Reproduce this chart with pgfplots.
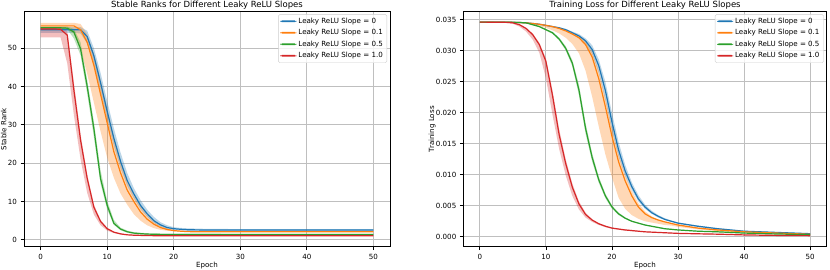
\documentclass[border=0pt]{standalone}
\usepackage{fontspec}
\setmainfont{DejaVu Sans}
\usepackage{pgfplots}
\usepackage{pgfplotstable}
\pgfplotsset{compat=1.18}
\usepgfplotslibrary{fillbetween}

\definecolor{tblue}{HTML}{1F77B4}
\definecolor{torange}{HTML}{FF7F0E}
\definecolor{tgreen}{HTML}{2CA02C}
\definecolor{tred}{HTML}{D62728}

\pgfplotstableread{
e b bl bu o ol ou g gl gu r rl ru
0 54.8 54.0 55.5 55.8 55.0 56.6 55.3 55.0 55.6 55.0 52.8 55.4
1 54.8 54.0 55.5 55.8 55.0 56.6 55.3 55.0 55.6 55.0 52.8 55.4
2 54.8 54.0 55.5 55.8 55.0 56.6 55.3 55.0 55.6 55.0 52.8 55.4
3 54.8 54.0 55.5 55.8 55.0 56.6 55.3 55.0 55.6 54.9 52.8 55.4
4 54.8 54.0 55.5 55.8 55.0 56.6 55.2 54.9 55.6 53.4 46.0 54.5
5 54.8 54.0 55.5 55.8 53.8 56.6 54.2 52.5 55.0 39.0 32.5 41.0
6 54.8 53.8 55.5 54.8 49.7 56.3 49.8 48.1 51.5 26.0 21.0 27.5
7 53.0 51.2 54.5 51.5 43.3 53.6 40.0 38.1 41.7 16.0 12.2 17.0
8 48.0 45.6 50.0 45.5 35.8 48.5 29.0 26.8 30.8 8.5 6.6 9.2
9 41.0 38.4 43.6 38.0 28.3 41.8 16.0 14.7 18.2 4.8 3.8 5.2
10 33.5 31.1 36.2 30.5 21.4 34.3 9.0 7.9 10.2 2.9 2.4 3.1
11 26.5 24.4 29.1 23.0 16.2 26.8 4.3 3.9 5.2 2.0 1.75 2.1
12 20.5 18.7 22.8 17.5 12.1 20.3 2.8 2.5 3.2 1.55 1.4 1.65
13 15.5 14.1 17.5 13.0 9.2 15.3 2.1 1.85 2.4 1.3 1.25 1.4
14 12.0 10.8 13.5 10.0 6.7 11.5 1.75 1.5 2.0 1.2 1.15 1.25
15 9.0 8.0 10.4 7.3 5.0 8.7 1.6 1.38 1.85 1.15 1.1 1.2
16 6.8 6.0 7.9 5.4 3.8 6.4 1.5 1.28 1.72 1.1 1.05 1.15
17 5.0 4.4 6.0 4.1 3.05 4.75 1.45 1.24 1.66 1.08 1.02 1.13
18 3.9 3.4 4.6 3.2 2.6 3.65 1.42 1.21 1.63 1.07 1.0 1.12
19 3.2 2.8 3.8 2.7 2.35 2.95 1.41 1.2 1.62 1.06 1.0 1.11
20 2.9 2.55 3.3 2.4 2.22 2.55 1.4 1.2 1.6 1.05 1.0 1.1
21 2.75 2.45 3.1 2.25 2.13 2.33 1.4 1.2 1.6 1.05 1.0 1.1
22 2.65 2.35 3.0 2.15 2.1 2.2 1.4 1.2 1.6 1.05 1.0 1.1
23 2.6 2.3 2.95 2.1 2.07 2.15 1.4 1.2 1.6 1.05 1.0 1.1
24 2.58 2.3 2.9 2.1 2.07 2.15 1.4 1.2 1.6 1.05 1.0 1.1
25 2.57 2.3 2.85 2.1 2.07 2.15 1.4 1.2 1.6 1.05 1.0 1.1
30 2.55 2.3 2.8 2.1 2.05 2.15 1.4 1.25 1.55 1.05 1.0 1.1
40 2.55 2.3 2.8 2.1 2.05 2.15 1.4 1.25 1.55 1.05 1.0 1.1
50 2.55 2.3 2.8 2.1 2.05 2.15 1.4 1.25 1.55 1.05 1.0 1.1
}\rankdata

\pgfplotstableread{
e b bl bu o ol ou g gl gu r rl ru
0 .03462 .03459 .03465 .03462 .03459 .03465 .03462 .03459 .03465 .03462 .03459 .03465
2 .03461 .03458 .03464 .03461 .03458 .03464 .03461 .03458 .03464 .03461 .03458 .03464
4 .0346 .03457 .03463 .0346 .03456 .03463 .0346 .03457 .03463 .03458 .03452 .0346
5 .03458 .03455 .03461 .03458 .03452 .03461 .03459 .03456 .03462 .0345 .03435 .03455
6 .03455 .03452 .03458 .03455 .03447 .03458 .03457 .03454 .0346 .0342 .0339 .03428
7 .0345 .03447 .03453 .0345 .0344 .03453 .0345 .03447 .03453 .0336 .0331 .0337
8 .0344 .03437 .03443 .0344 .0342 .03443 .0342 .03412 .03428 .0326 .0318 .0328
9 .03428 .03422 .03434 .03427 .0340 .0343 .0339 .0338 .034 .0310 .0297 .0313
10 .0341 .03403 .03417 .0341 .0337 .03413 .0334 .03328 .03352 .0283 .0256 .0288
11 .0339 .03382 .03398 .0339 .0333 .03393 .0329 .03272 .03308 .0228 .0197 .0236
12 .0337 .03358 .03382 .0336 .0328 .03363 .0319 .03167 .03213 .0165 .0142 .0174
13 .0334 .03322 .03352 .0332 .0321 .03323 .0304 .03006 .03074 .0118 .0099 .0125
14 .0329 .03265 .0331 .0327 .0311 .0329 .028 .0275 .0285 .008 .0066 .0086
15 .0324 .0320 .0327 .0321 .0296 .0324 .0237 .02285 .02455 .0053 .0044 .0057
16 .0316 .0311 .0320 .0310 .0268 .0315 .0175 .01664 .01836 .0036 .0031 .0039
17 .0302 .0294 .0309 .0290 .0226 .0299 .0128 .01212 .01348 .0027 .0024 .0028
18 .0276 .0264 .0286 .0255 .0178 .0268 .0092 .0087 .0097 .0021 .0019 .0022
19 .0236 .0220 .0250 .0210 .0133 .0225 .0066 .00622 .00698 .0017 .00155 .0018
20 .0185 .0170 .0200 .0162 .0096 .0177 .0048 .00452 .00508 .0014 .0013 .0015
21 .0140 .0129 .0153 .0121 .0063 .0134 .0037 .0035 .0039 .00125 .00115 .0013
22 .0106 .0098 .0116 .0090 .0045 .0100 .003 .00285 .00315 .0011 .001 .0012
23 .0081 .0075 .0088 .0066 .0035 .0074 .0025 .00242 .00258 .001 .00092 .0011
24 .0061 .0057 .0067 .0048 .0029 .0054 .0022 .00212 .00228 .0009 .00083 .00095
25 .0048 .0045 .0052 .0037 .0025 .0041 .0019 .00182 .00198 .0008 .00075 .00085
26 .0039 .0037 .0042 .0031 .0023 .0033 .0017 .00162 .00178 .00075 .0007 .0008
27 .0033 .0031 .0035 .0027 .0021 .0028 .0015 .00142 .00158 .0007 .00065 .00075
28 .0028 .0027 .0030 .0024 .0019 .0025 .0013 .00122 .00138 .00065 .0006 .0007
29 .0025 .0024 .0026 .00215 .0018 .0022 .0012 .00112 .00128 .0006 .00056 .00064
30 .0022 .0021 .0023 .0019 .0016 .002 .0011 .00104 .00116 .00055 .0005 .0006
33 .0017 .0016 .0018 .0014 .0012 .0015 .0009 .00084 .00096 .00048 .00044 .00052
36 .0013 .0012 .0014 .0011 .0009 .0012 .0008 .00074 .00086 .00042 .00038 .00046
40 .0009 .00085 .00095 .0008 .0007 .0009 .0006 .00054 .00066 .0003 .00027 .00033
45 .0007 .00065 .00075 .0006 .0005 .0007 .00045 .0004 .0005 .00022 .0002 .00024
50 .0005 .00045 .00055 .0004 .0003 .0005 .00035 .0003 .0004 .00018 .00016 .0002
}\lossdata

\pgfplotsset{
  mystyle/.style={
    scale only axis,
    height=235pt,
    xmin=-2.5, xmax=52.5,
    xtick={0,10,20,30,40,50},
    grid=major,
    grid style={black!25, line width=0.8pt},
    axis line style={black, line width=0.7pt},
    tick style={black, line width=0.7pt},
    tick align=outside,
    major tick length=3.5pt,
    tick pos=left,
    /pgf/number format/assume math mode=true,
    ticklabel style={font=\fontsize{7.1}{8}\selectfont},
    label style={font=\fontsize{7.1}{8}\selectfont, inner sep=0pt},
    every axis title shift=0pt,
    title style={font=\fontsize{8.5}{10}\selectfont, inner sep=0pt, at={(0.5,1)}, anchor=south, yshift=2.4pt},
    xlabel style={at={(axis description cs:0.5,-0.065)}, anchor=north},
    legend cell align=left,
    legend style={at={(1,1)}, anchor=north east, xshift=-3pt, yshift=-2.5pt,
      draw=black!20, rounded corners=1.5pt, fill=white, fill opacity=0.8, text opacity=1, draw opacity=1,
      font=\fontsize{7.1}{8}\selectfont, inner xsep=2pt, inner ysep=1.5pt, row sep=0.6pt},
    legend image code/.code={\fill[##1, draw=none, fill opacity=1] (0pt,-0.85pt) rectangle (16pt,0.85pt);},
  }
}

\begin{document}
\begin{tikzpicture}

\begin{axis}[mystyle,
  at={(24pt,22.3pt)}, anchor=south west,
  width=366pt,
  ymin=-1.8, ymax=59.5,
  ytick={0,10,20,30,40,50},
  title={Stable Ranks for Different Leaky ReLU Slopes},
  xlabel={Epoch}, ylabel={Stable Rank},
  ylabel style={at={(axis description cs:-0.047,0.5)}, anchor=south},
]
\addplot[draw=none, name path=bU, forget plot] table[x=e,y=bu]{\rankdata};
\addplot[draw=none, name path=bL, forget plot] table[x=e,y=bl]{\rankdata};
\addplot[fill=tblue, fill opacity=0.3, draw=none, forget plot] fill between[of=bU and bL];
\addplot[tblue, line width=1.2pt] table[x=e,y=b]{\rankdata};
\addlegendentry{Leaky ReLU Slope = 0}
\addplot[draw=none, name path=oU, forget plot] table[x=e,y=ou]{\rankdata};
\addplot[draw=none, name path=oL, forget plot] table[x=e,y=ol]{\rankdata};
\addplot[fill=torange, fill opacity=0.3, draw=none, forget plot] fill between[of=oU and oL];
\addplot[torange, line width=1.2pt] table[x=e,y=o]{\rankdata};
\addlegendentry{Leaky ReLU Slope = 0.1}
\addplot[draw=none, name path=gU, forget plot] table[x=e,y=gu]{\rankdata};
\addplot[draw=none, name path=gL, forget plot] table[x=e,y=gl]{\rankdata};
\addplot[fill=tgreen, fill opacity=0.3, draw=none, forget plot] fill between[of=gU and gL];
\addplot[tgreen, line width=1.2pt] table[x=e,y=g]{\rankdata};
\addlegendentry{Leaky ReLU Slope = 0.5}
\addplot[draw=none, name path=rU, forget plot] table[x=e,y=ru]{\rankdata};
\addplot[draw=none, name path=rL, forget plot] table[x=e,y=rl]{\rankdata};
\addplot[fill=tred, fill opacity=0.3, draw=none, forget plot] fill between[of=rU and rL];
\addplot[tred, line width=1.2pt] table[x=e,y=r]{\rankdata};
\addlegendentry{Leaky ReLU Slope = 1.0}
\end{axis}

\begin{axis}[mystyle,
  at={(463.3pt,22.3pt)}, anchor=south west,
  width=363.4pt,
  ymin=-0.0016, ymax=0.0363,
  ytick={0,0.005,0.01,0.015,0.02,0.025,0.03,0.035},
  scaled y ticks=false,
  yticklabel style={/pgf/number format/.cd, fixed, fixed zerofill, precision=3},
  title={Training Loss for Different Leaky ReLU Slopes},
  xlabel={Epoch}, ylabel={Training Loss},
  ylabel style={at={(axis description cs:-0.076,0.5)}, anchor=south},
]
\addplot[draw=none, name path=bU, forget plot] table[x=e,y=bu]{\lossdata};
\addplot[draw=none, name path=bL, forget plot] table[x=e,y=bl]{\lossdata};
\addplot[fill=tblue, fill opacity=0.3, draw=none, forget plot] fill between[of=bU and bL];
\addplot[tblue, line width=1.2pt] table[x=e,y=b]{\lossdata};
\addlegendentry{Leaky ReLU Slope = 0}
\addplot[draw=none, name path=oU, forget plot] table[x=e,y=ou]{\lossdata};
\addplot[draw=none, name path=oL, forget plot] table[x=e,y=ol]{\lossdata};
\addplot[fill=torange, fill opacity=0.3, draw=none, forget plot] fill between[of=oU and oL];
\addplot[torange, line width=1.2pt] table[x=e,y=o]{\lossdata};
\addlegendentry{Leaky ReLU Slope = 0.1}
\addplot[draw=none, name path=gU, forget plot] table[x=e,y=gu]{\lossdata};
\addplot[draw=none, name path=gL, forget plot] table[x=e,y=gl]{\lossdata};
\addplot[fill=tgreen, fill opacity=0.3, draw=none, forget plot] fill between[of=gU and gL];
\addplot[tgreen, line width=1.2pt] table[x=e,y=g]{\lossdata};
\addlegendentry{Leaky ReLU Slope = 0.5}
\addplot[draw=none, name path=rU, forget plot] table[x=e,y=ru]{\lossdata};
\addplot[draw=none, name path=rL, forget plot] table[x=e,y=rl]{\lossdata};
\addplot[fill=tred, fill opacity=0.3, draw=none, forget plot] fill between[of=rU and rL];
\addplot[tred, line width=1.2pt] table[x=e,y=r]{\lossdata};
\addlegendentry{Leaky ReLU Slope = 1.0}
\end{axis}
\pgfresetboundingbox
\path[use as bounding box] (0pt,0pt) rectangle (830pt,269pt);
\end{tikzpicture}
\end{document}
